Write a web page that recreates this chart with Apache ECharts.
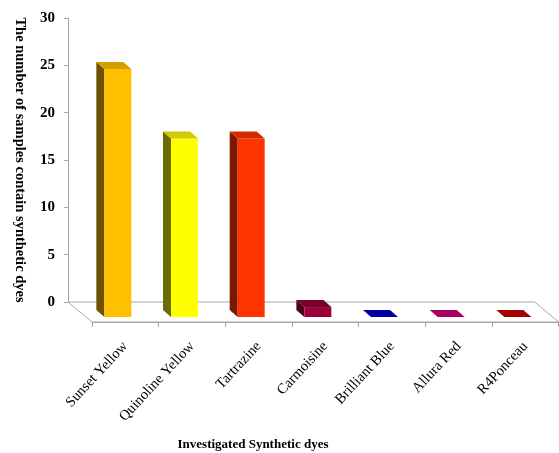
<!DOCTYPE html>
<html>
<head>
<meta charset="utf-8">
<script src="https://cdn.jsdelivr.net/npm/echarts@6/dist/echarts.min.js"></script>
<style>
  html, body { margin: 0; padding: 0; background: #ffffff; }
  #chart { width: 559px; height: 453px; }
</style>
</head>
<body>
<div id="chart"></div>
<script>
// Synthetic dyes found in the samples
const categories = ['Sunset Yellow', 'Quinoline Yellow', 'Tartrazine', 'Carmoisine', 'Brilliant Blue', 'Allura Red', 'R4Ponceau'];
const sampleCounts = [25, 18, 18, 1, 0, 0, 0];

// Value axis ticks
const yMin = 0;
const yMax = 30;
const yStep = 5;

// Face shades for each dye column: front, top, side
const frontColors = ['#FFC000', '#FFFF00', '#FF3300', '#9B0038', '#0000A0', '#A8005E', '#A50000'];
const topColors   = ['#D4A000', '#CCCC00', '#D42A00', '#7A002C', '#0000A0', '#A8005E', '#A50000'];
const sideColors  = ['#6E5200', '#6B6B00', '#7A1800', '#4D001A', '#00005A', '#5E0034', '#5A0000'];

const FONT = '"Liberation Serif", "Times New Roman", serif';
const EDGE = '#A6A6A6';

// Oblique depth used for the 3D look
const DEPTH_X = 24, DEPTH_Y = 20;   // floor depth
const BAR_DX = 8, BAR_DY = 7;       // column depth
const FRONT_SHIFT_Y = 15;           // front face bottom below back floor line
const FRONT_SCALE = 1.048;          // front faces are slightly taller (perspective)

const chart = echarts.init(document.getElementById('chart'), null, { renderer: 'canvas' });

function renderFloor(params, api) {
  const c = api.coord([0, 0]);
  const band = api.size([1, 0])[0];
  const left = c[0] - band / 2;
  const right = left + band * categories.length;
  const y0 = c[1];
  return {
    type: 'polygon',
    shape: { points: [[left, y0], [right, y0], [right + DEPTH_X, y0 + DEPTH_Y], [left + DEPTH_X, y0 + DEPTH_Y]] },
    style: { fill: '#ffffff', stroke: EDGE, lineWidth: 1 }
  };
}

function renderColumn(params, api) {
  const i = api.value(0);
  const v = api.value(1);
  const base = api.coord([i, 0]);
  const top = api.coord([i, v]);
  const band = api.size([1, 0])[0];
  const h = (base[1] - top[1]) * FRONT_SCALE;
  const fx1 = base[0] + band * 0.045;
  const fx2 = fx1 + band * 0.405;
  const fb = base[1] + FRONT_SHIFT_Y;
  const ft = fb - h;
  const children = [];
  if (h > 0.5) {
    // left side face
    children.push({
      type: 'polygon',
      shape: { points: [[fx1 - BAR_DX, ft - BAR_DY], [fx1, ft], [fx1, fb], [fx1 - BAR_DX, fb - BAR_DY]] },
      style: { fill: sideColors[i] }
    });
    // front face
    children.push({
      type: 'rect',
      shape: { x: fx1, y: ft, width: fx2 - fx1, height: h },
      style: { fill: frontColors[i] }
    });
  }
  // top face
  children.push({
    type: 'polygon',
    shape: { points: [[fx1 - BAR_DX, ft - BAR_DY], [fx2 - BAR_DX, ft - BAR_DY], [fx2, ft], [fx1, ft]] },
    style: { fill: topColors[i] }
  });
  return { type: 'group', children: children };
}

const option = {
  backgroundColor: '#ffffff',
  animation: false,
  grid: [
    { left: 68, width: 466.7, top: 18, height: 284 },
    { left: 68 + DEPTH_X, width: 466.7, top: 18 + DEPTH_Y, height: 284 }
  ],
  xAxis: [
    {
      gridIndex: 0, type: 'category', data: categories,
      axisLine: { show: true, lineStyle: { color: EDGE, width: 1 } },
      axisTick: { show: false }, axisLabel: { show: false }, splitLine: { show: false }
    },
    {
      gridIndex: 1, type: 'category', data: categories,
      axisLine: { show: true, lineStyle: { color: EDGE, width: 1 } },
      axisTick: { show: true, length: 5, lineStyle: { color: EDGE } },
      axisLabel: { show: true, rotate: 47, margin: 22, fontFamily: FONT, fontSize: 14.5, color: '#000000', interval: 0 },
      splitLine: { show: false }
    }
  ],
  yAxis: [
    {
      gridIndex: 0, type: 'value', min: yMin, max: yMax, interval: yStep,
      axisLine: { show: true, lineStyle: { color: EDGE, width: 1 } },
      axisTick: { show: true, length: 4, lineStyle: { color: EDGE } },
      axisLabel: { margin: 13, fontFamily: FONT, fontSize: 15, fontWeight: 'bold', color: '#000000' },
      splitLine: { show: false },
      name: 'The number of samples contain synthetic dyes',
      nameLocation: 'middle', nameRotate: -90, nameGap: 41,
      nameTextStyle: { fontFamily: FONT, fontSize: 14.5, fontWeight: 'bold', color: '#000000' }
    },
    { gridIndex: 1, type: 'value', min: yMin, max: yMax, show: false }
  ],
  graphic: [
    {
      type: 'text', x: 253, y: 445,
      style: {
        text: 'Investigated Synthetic dyes', fontFamily: FONT, fontSize: 13, fontWeight: 'bold',
        fill: '#000000', align: 'center', verticalAlign: 'middle'
      }
    }
  ],
  series: [
    {
      type: 'custom', name: 'floor', xAxisIndex: 0, yAxisIndex: 0, z: 1,
      data: [[0, 0]], renderItem: renderFloor, silent: true
    },
    {
      type: 'custom', name: 'samples', xAxisIndex: 0, yAxisIndex: 0, z: 3,
      data: categories.map((c, i) => [i, sampleCounts[i]]),
      renderItem: renderColumn
    }
  ]
};

chart.setOption(option);
</script>
</body>
</html>
